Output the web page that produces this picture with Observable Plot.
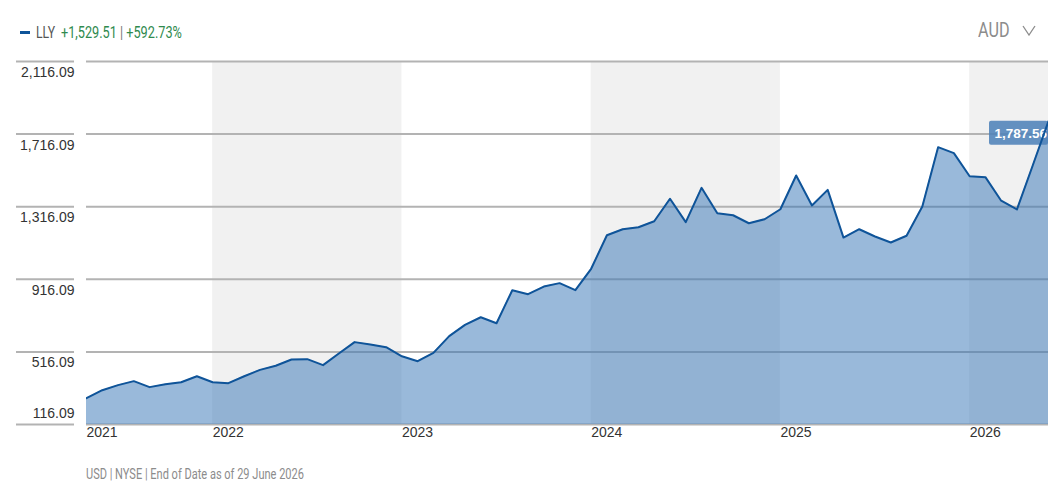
<!DOCTYPE html>
<html><head><meta charset="utf-8">
<script src="https://cdn.jsdelivr.net/npm/d3@7"></script>
<script src="https://cdn.jsdelivr.net/npm/@observablehq/plot@0.6"></script>
<style>
html,body{margin:0;padding:0;background:#fff;width:1064px;height:488px;overflow:hidden;position:relative}
.n{font-family:"Roboto","Liberation Sans",sans-serif;position:absolute;white-space:nowrap;line-height:1;transform-origin:left center}
#chart{position:absolute;left:0;top:50px}
#chart svg{display:block}
</style></head><body>
<div class="n" style="left:20px;top:30.5px;width:10px;height:3px;background:#0f5499"></div>
<div class="n" style="left:36px;top:24px;font-size:17px;color:#555;transform:scaleX(.72)">LLY</div>
<div class="n" style="left:61px;top:24px;font-size:17px;color:#2f8a4e;transform:scaleX(.747)">+1,529.51 <span style="color:#777">|</span> +592.73%</div>
<div class="n" style="left:978px;top:20px;font-size:20px;color:#8c8c8c;transform:scaleX(.81)">AUD</div>
<svg style="position:absolute;left:1022px;top:25px" width="14" height="11"><path d="M1 1 L7 10 L13 1" fill="none" stroke="#8c8c8c" stroke-width="1.3"/></svg>
<div id="chart"></div>
<div class="n" style="left:86px;top:467px;font-size:15px;color:#8c8c8c;transform:scaleX(.735)">USD | NYSE | End of Date as of 29 June 2026</div>
<script>
const values = [261,305,333,355,322,338,349,382,349,344,382,417,440,474,476,443,507,570,557,542,492,465,511,603,665,707,674,856,834,876,895,856,974,1159,1192,1203,1236,1360,1231,1420,1280,1269,1225,1247,1302,1488,1323,1409,1146,1192,1152,1119,1156,1317,1644,1611,1484,1479,1349,1301,1543,1787.56];
const yTicks = [116.09,516.09,916.09,1316.09,1716.09,2116.09];
const yearLabels = ["2021","2022","2023","2024","2025","2026"];
const yearStarts = [0,8,20,32,44,56];      // month index of May 2021 = 0
const bandStarts = [8,32,56];
const bandEnds = [20,44,61];
const data = values.map((v,m)=>({m,v}));
const lastP = data[data.length-1];
const bandRows = bandStarts.map((a,i)=>({a,b:bandEnds[i]}));
const fmt = d3.format(",.2f");
const chart = Plot.plot({
  width:1064,height:400,marginTop:11,marginBottom:26,marginLeft:86,marginRight:16,
  style:{fontFamily:"Liberation Sans, Arial, sans-serif",background:"transparent",overflow:"hidden"},
  x:{type:"linear",domain:[0,61]},
  y:{domain:[116.09,2116.09]},
  marks:[
    Plot.rectX(bandRows,{x1:"a",x2:"b",fill:"#f1f1f1"}),
    Plot.ruleY(yTicks,{stroke:"#b3b3b3",strokeWidth:2}),
    Plot.axisY({ticks:yTicks,tickSize:58,dx:-12,tickFormat:()=>"",label:null,stroke:"#b3b3b3",strokeWidth:2,strokeOpacity:1}),
    Plot.axisY({ticks:yTicks.slice(1),tickSize:0,tickPadding:12,dy:11,tickFormat:fmt,label:null,fontSize:14,fill:"#333"}),
    Plot.axisY({ticks:yTicks.slice(0,1),tickSize:0,tickPadding:12,dy:-10.5,tickFormat:fmt,label:null,fontSize:14,fill:"#333"}),
    Plot.axisX({ticks:yearStarts,tickSize:0,tickPadding:3,tickFormat:d=>yearLabels[yearStarts.indexOf(d)],textAnchor:"start",label:null,fontSize:14,fill:"#333"}),
    Plot.areaY(data,{x:"m",y1:116.09,y2:"v",fill:"rgb(51,115,181)",fillOpacity:0.5}),
    Plot.rect([lastP],{x1:"m",x2:"m",y1:"v",y2:"v",insetLeft:-59,insetBottom:-24,fill:"#4f82b8",fillOpacity:0.88,rx:2}),
    Plot.text([lastP],{x:"m",y:"v",text:d=>fmt(d.v),textAnchor:"start",dx:-54,dy:12.5,fill:"#fff",fontWeight:"bold",fontSize:13.5,clip:true}),
    Plot.line(data,{x:"m",y:"v",stroke:"#0f5499",strokeWidth:2,clip:true})
  ]
});
document.getElementById("chart").append(chart);
</script>
</body></html>
